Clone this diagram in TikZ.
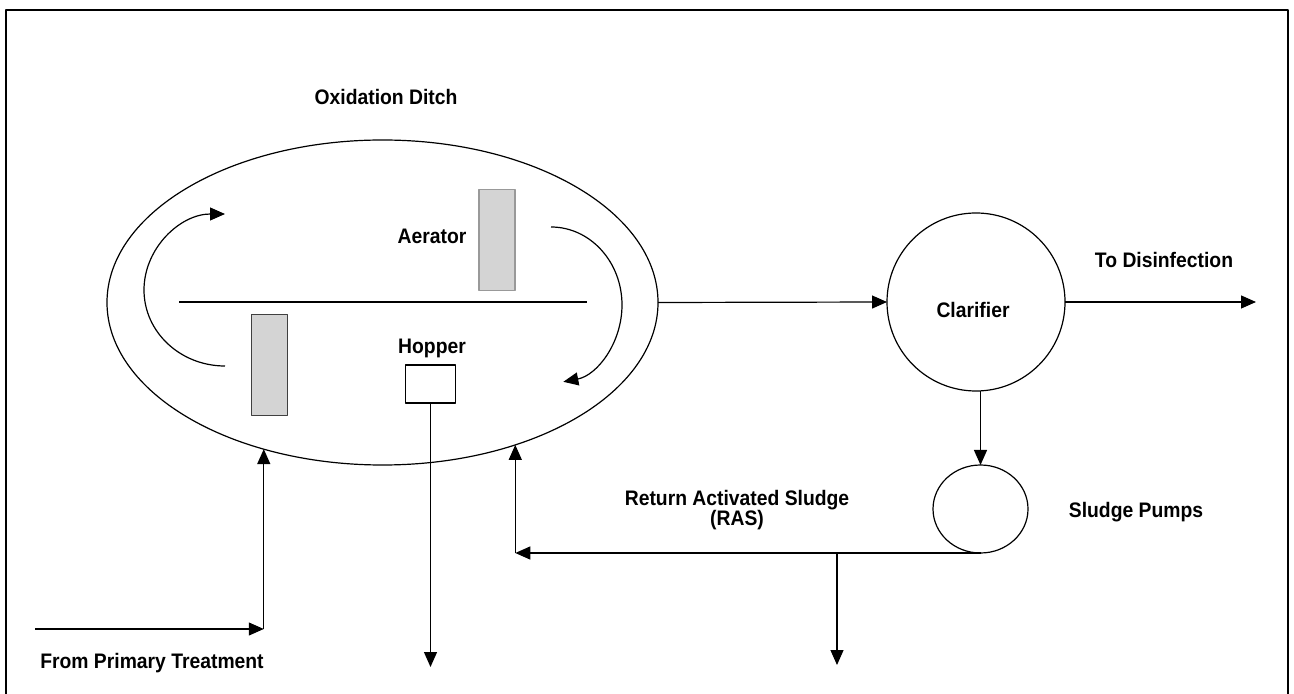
\documentclass[tikz,border=0pt]{standalone}
\usepackage{fontspec}
\setmainfont{Liberation Sans}[FakeStretch=0.92]
\usetikzlibrary{arrows.meta,shapes.geometric}
\begin{document}
\begin{tikzpicture}[x=0.5pt,y=-0.5pt,line width=0.6pt,line join=round,
  font=\fontsize{10.5}{10}\selectfont\bfseries,
  every node/.append style={outer sep=0pt},
  flow/.style={-{Triangle[length=7.5pt,width=6.5pt]}},
  paddle/.style={draw,fill=black!17,minimum width=18pt,minimum height=50.5pt,inner sep=0pt}]
  \useasboundingbox (0,0) rectangle (1294,694);
  \draw[line width=1.2pt] (6,700) -- (6,10) -- (1288,10) -- (1288,700);
  \node (title) at (386,97) {Oxidation Ditch};
  \node[ellipse,draw,minimum width=275.5pt,minimum height=162.5pt,inner sep=0pt] (ditch) at (382.5,302.5) {};
  \draw (179,302) -- (587,302);
  \node[paddle,draw=black!40] (aer1) at (497,240) {};
  \node[paddle,draw=black!75] (aer2) at (269.5,365) {};
  \node (aerlbl) at (432,236) {Aerator};
  \node (hoplbl) at (432,348) {Hopper};
  \node[draw,minimum width=25pt,minimum height=19pt,inner sep=0pt] (hop) at (430.5,384) {};
  \draw[flow] (225,366) arc[start angle=90,end angle=270,x radius=81,y radius=76];
  \draw[flow] (551,227) arc[start angle=270,end angle=440,x radius=71,y radius=78];
  \node[circle,draw,minimum size=89pt,inner sep=0pt] (clar) at (976,302) {};
  \node (clarlbl) at (973,310) {Clarifier};
  \node[ellipse,draw,minimum width=47.5pt,minimum height=44pt,inner sep=0pt] (pump) at (980.5,509) {};
  \coordinate (disinf) at (1256,302);
  \coordinate (rasin) at (ditch.-47 |- pump.south);
  \coordinate (tee) at (837,553);
  \coordinate (waste) at (837,665);
  \coordinate (hopout) at (430.5,667);
  \coordinate (src) at (35,629);
  \coordinate (inturn) at (ditch.-129 |- src);
  \draw[flow] (ditch.east) -- (clar.west);
  \draw[flow] (clar.east) -- (disinf);
  \draw[flow] (clar.south -| pump.north) -- (pump.north);
  \draw[flow] (pump.south) -- (rasin);
  \draw[flow] (rasin) -- (ditch.-47);
  \draw[flow] (tee) -- (waste);
  \draw[flow] (hop.south) -- (hopout);
  \draw[flow] (src) -- (inturn);
  \draw[flow] (inturn) -- (ditch.-129);
  \node (disinflbl) at (1164,260) {To Disinfection};
  \node (pumplbl) at (1136,512) {Sludge Pumps};
  \node[align=center] (raslbl) at (737,510) {Return Activated Sludge\\(RAS)};
  \node (srclbl) at (152,663) {From Primary Treatment};
\end{tikzpicture}
\end{document}
